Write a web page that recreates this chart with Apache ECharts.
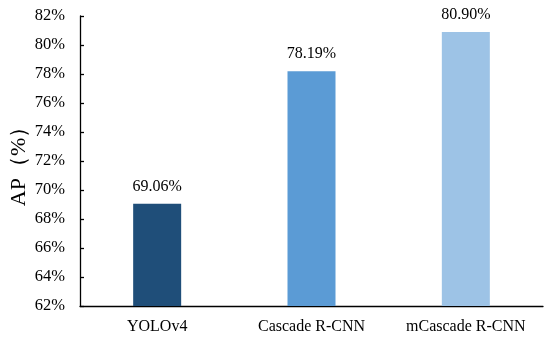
<!DOCTYPE html>
<html><head><meta charset="utf-8">
<script src="https://cdn.jsdelivr.net/npm/echarts@6/dist/echarts.min.js"></script>
<style>html,body{margin:0;padding:0;background:#fff}#c{width:550px;height:338px}</style>
</head><body><div id="c"></div>
<script>
const categories = ["YOLOv4", "Cascade R-CNN", "mCascade R-CNN"];
const apValues = [69.06, 78.19, 80.90];
const barColors = ["#1F4E79", "#5B9BD5", "#9DC3E6"];
const yTicks = [62, 64, 66, 68, 70, 72, 74, 76, 78, 80, 82];

const font = "'Liberation Serif','Times New Roman',serif";
const chart = echarts.init(document.getElementById('c'));
chart.setOption({
  animation: false,
  grid: { left: 80, right: 7, top: 16, bottom: 32, containLabel: false, outerBoundsMode: 'none' },
  xAxis: {
    type: 'category', data: categories,
    axisLine: { lineStyle: { color: '#000', width: 1.3 } },
    axisTick: { show: false },
    axisLabel: { color: '#000', fontFamily: font, fontSize: 16, margin: 13, interval: 0 }
  },
  yAxis: {
    type: 'value', min: yTicks[0], max: yTicks[yTicks.length - 1], interval: 2,
    name: 'AP（%）', nameLocation: 'middle', nameGap: 50, nameRotate: 90,
    nameMoveOverlap: false,
    nameTextStyle: { color: '#000', fontFamily: font, fontSize: 22 },
    axisLine: { show: true, lineStyle: { color: '#000', width: 1.3 } },
    axisTick: { show: true, inside: true, length: 4, lineStyle: { color: '#000', width: 1.3 } },
    splitLine: { show: false },
    axisLabel: { color: '#000', fontFamily: font, fontSize: 16.5, margin: 15, formatter: v => v + '%' }
  },
  series: [{
    type: 'bar',
    barWidth: 48,
    data: apValues.map((v, i) => ({ value: v, itemStyle: { color: barColors[i] } })),
    label: { show: true, position: 'top', distance: 9, color: '#000', fontFamily: font, fontSize: 16,
      formatter: p => p.value.toFixed(2) + '%' }
  }]
});
</script></body></html>
